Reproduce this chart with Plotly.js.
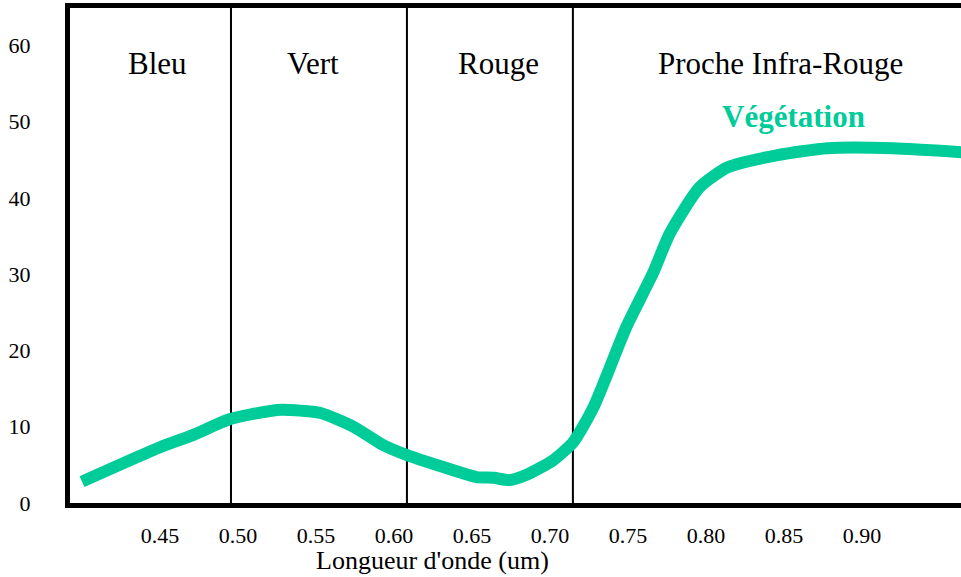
<!DOCTYPE html>
<html><head><meta charset="utf-8">
<script src="https://cdn.plot.ly/plotly-3.0.1.min.js"></script>
<style>html,body{margin:0;padding:0;background:#fff}#chart{width:961px;height:577px}</style>
</head><body><div id="chart"></div>
<script>
// Data
const wavelength = [0.400,0.450,0.471,0.495,0.525,0.533,0.553,0.574,0.593,0.608,0.638,0.653,0.664,0.674,0.685,0.702,0.715,0.728,0.749,0.766,0.777,0.796,0.814,0.846,0.878,0.920,0.970];
const reflectance = [2.8,7.3,8.9,11.0,12.2,12.2,11.8,10.0,7.6,6.3,4.3,3.4,3.3,3.0,3.7,5.6,8.0,12.6,23.1,30.1,35.4,41.4,44.0,45.6,46.5,46.5,45.9];
const bandEdges = [0.4955, 0.6083, 0.7147];
const bandNames = ['Bleu', 'Vert', 'Rouge', 'Proche Infra-Rouge'];
const xTickVals = [0.45,0.50,0.55,0.60,0.65,0.70,0.75,0.80,0.85,0.90];
const xTickText = ['0.45','0.50','0.55','0.60','0.65','0.70','0.75','0.80','0.85','0.90'];
const yTickVals = [0,10,20,30,40,50,60];
const yTickText = ['0','10','20','30','40','50','60'];
const seriesName = 'Végétation';
const xTitle = "Longueur d'onde (um)";

const serif = 'Liberation Serif, Times New Roman, serif';
const green = '#00CC99';

const bandLabelX = [0.4487, 0.5481, 0.6667, 0.848];

const shapes = bandEdges.map(x => ({
  type: 'line', xref: 'x', yref: 'paper', x0: x, x1: x, y0: 0, y1: 1,
  line: {color: 'black', width: 2}, layer: 'below'
}));

const annotations = bandNames.map((name, i) => ({
  text: name, xref: 'x', yref: 'y', x: bandLabelX[i], y: 57.6,
  xanchor: 'center', yanchor: 'middle', showarrow: false,
  font: {family: serif, size: 31, color: 'black'}
}));
annotations.push({
  text: '<b>' + seriesName + '</b>', xref: 'x', yref: 'y', x: 0.8564, y: 50.6,
  xanchor: 'center', yanchor: 'middle', showarrow: false,
  font: {family: serif, size: 31, color: green}
});
annotations.push({
  text: xTitle, xref: 'paper', yref: 'paper', x: (432 - 70) / 891, y: -0.117,
  xanchor: 'center', yanchor: 'middle', showarrow: false,
  font: {family: serif, size: 26, color: 'black'}
});

const trace = {
  x: wavelength, y: reflectance, type: 'scatter', mode: 'lines', name: seriesName,
  line: {color: green, width: 12, shape: 'spline', smoothing: 0.6},
  hoverinfo: 'skip'
};

const layout = {
  width: 961, height: 577,
  margin: {l: 70, r: 0, t: 8, b: 74, pad: 0},
  paper_bgcolor: 'white', plot_bgcolor: 'white',
  showlegend: false,
  font: {family: serif, color: 'black'},
  xaxis: {
    range: [0.3923, 0.9635], showline: true, linewidth: 5, linecolor: 'black', mirror: true,
    showgrid: false, zeroline: false, tickvals: xTickVals, ticktext: xTickText,
    ticks: 'outside', ticklen: 9, tickcolor: 'rgba(0,0,0,0)',
    tickfont: {family: serif, size: 22, color: 'black'}, fixedrange: true
  },
  yaxis: {
    range: [0, 64.88], showline: true, linewidth: 5, linecolor: 'black',
    showgrid: false, zeroline: false, tickvals: yTickVals, ticktext: yTickText,
    ticks: 'outside', ticklen: 30, tickcolor: 'rgba(0,0,0,0)',
    tickfont: {family: serif, size: 22, color: 'black'}, fixedrange: true
  },
  shapes: shapes,
  annotations: annotations
};

Plotly.newPlot('chart', [trace], layout, {displayModeBar: false, staticPlot: true});
</script>
</body></html>
